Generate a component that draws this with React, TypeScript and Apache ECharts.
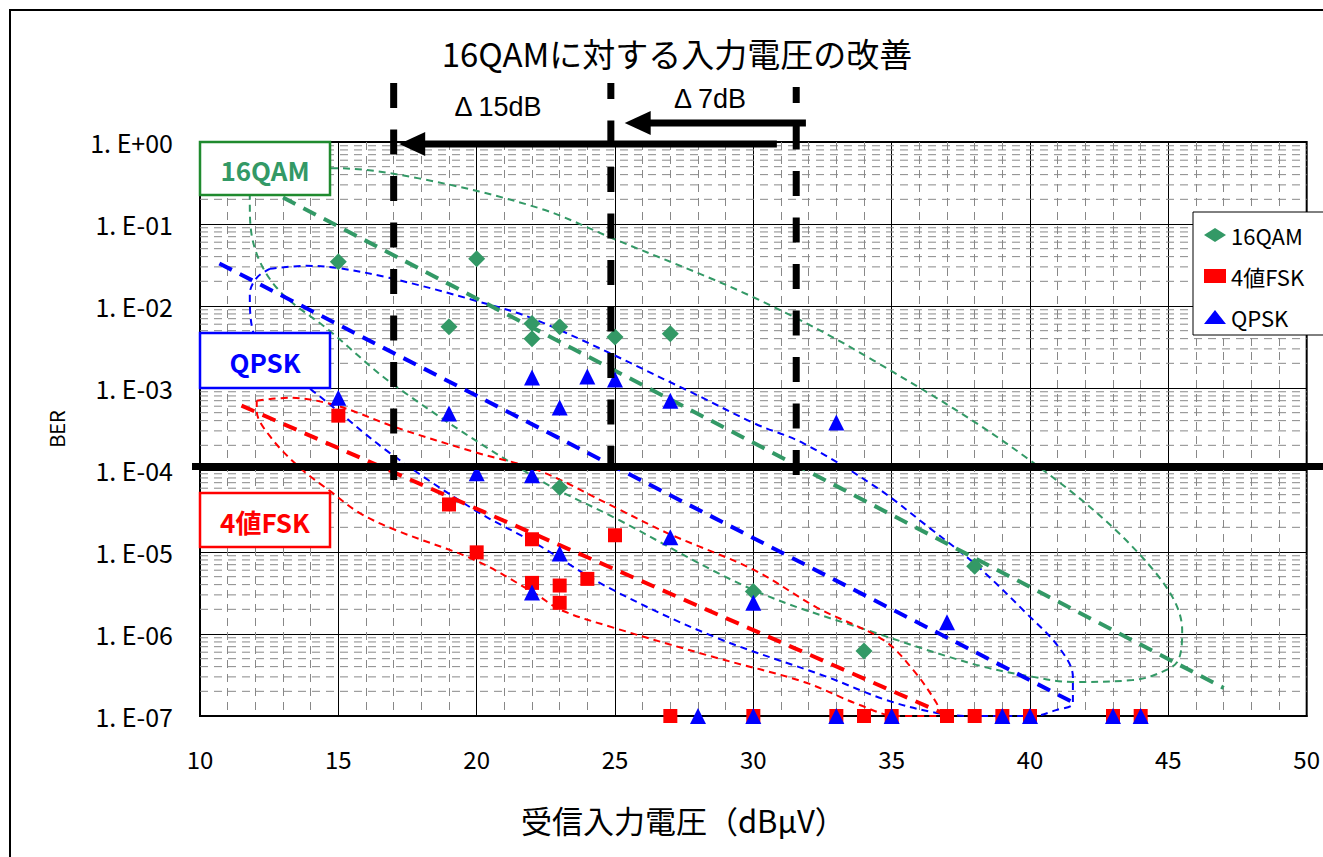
import React, { useEffect, useRef } from 'react';
import * as echarts from 'echarts';

// ---------- data ----------
const seriesNames = ['16QAM', '4値FSK', 'QPSK'];

const qam16Points: [number, number][] = [
  [15, 3.46e-2], [20, 3.76e-2], [19, 5.6e-3], [22, 6.1e-3], [22, 4.0e-3], [23, 5.6e-3],
  [25, 4.2e-3], [27, 4.6e-3], [23, 6.1e-5], [30, 3.3e-6], [34, 6.2e-7], [38, 6.7e-6],
];
const fskPoints: [number, number][] = [
  [15, 4.6e-4], [19, 3.8e-5], [20, 9.9e-6], [22, 1.43e-5], [22, 4.2e-6], [23, 3.9e-6],
  [23, 2.4e-6], [24, 4.7e-6], [25, 1.6e-5],
];
const qpskPoints: [number, number][] = [
  [15, 7.6e-4], [19, 4.9e-4], [20, 9.1e-5], [22, 1.34e-3], [22, 8.6e-5], [23, 5.8e-4],
  [24, 1.38e-3], [25, 1.27e-3], [27, 7.0e-4], [33, 3.8e-4], [22, 3.2e-6], [23, 9.6e-6],
  [27, 1.51e-5], [30, 2.4e-6], [37, 1.39e-6],
];
const floorBer = 1e-7;
const fskFloorX = [27, 30, 33, 34, 35, 37, 38, 39, 40, 43, 44];
const qpskFloorX = [28, 30, 33, 35, 39, 40, 43, 44];

const qam16Trend: [number, number][] = [[13, 0.21], [47, 2.2e-7]];
const qpskTrend: [number, number][] = [[10.7, 0.033], [41.6, 1.44e-7]];
const fskTrend: [number, number][] = [[11.5, 6.1e-4], [36.8, 1.1e-7]];

const qam16Envelope: [number, number][] = [
  [11.8, 0.29], [13.24, 0.44], [14.78, 0.48], [17.91, 0.36], [22.23, 0.157], [24.86, 0.068],
  [30.04, 0.0126], [34.35, 2.16e-3], [39.86, 1.42e-4], [44.06, 8.6e-6], [45.5, 1.11e-6],
  [45.36, 4.8e-7], [44.64, 3.3e-7], [43.71, 2.74e-7], [41.55, 2.6e-7], [40.11, 3.0e-7],
  [38.06, 4.2e-7], [34.46, 1.02e-6], [30.04, 3.4e-6], [25.0, 2.6e-5], [22.12, 8.1e-5],
  [17.09, 1.04e-3], [14.68, 5.0e-3], [12.77, 0.0167], [11.91, 0.062], [11.8, 0.19], [11.8, 0.29],
];
const qpskEnvelope: [number, number][] = [
  [12.52, 0.0284], [13.85, 0.0309], [14.93, 0.0292], [16.83, 0.0221], [19.96, 0.0116],
  [22.23, 6.6e-3], [27.63, 9.3e-4], [30.04, 3.7e-4], [31.83, 2.1e-4], [34.46, 6.1e-5],
  [36.26, 2.1e-5], [38.06, 6.9e-6], [39.86, 1.8e-6], [41.04, 6.9e-7], [41.55, 3.0e-7],
  [41.55, 1.44e-7], [40.94, 1.18e-7], [40.11, 1.0e-7], [39.03, 1.0e-7], [37.81, 1.0e-7],
  [36.62, 1.09e-7], [34.82, 1.56e-7], [32.66, 3.0e-7], [28.6, 9.2e-7], [24.75, 3.7e-6],
  [22.12, 1.28e-5], [19.96, 3.2e-5], [16.83, 1.64e-4], [14.06, 9.3e-4], [12.7, 1.9e-3],
  [11.91, 5.0e-3], [11.8, 0.0141], [12.05, 0.0221], [12.52, 0.0284],
];
const fskEnvelope: [number, number][] = [
  [12.05, 7.0e-4], [13.24, 7.6e-4], [14.93, 6.1e-4], [17.09, 3.3e-4], [19.96, 1.64e-4],
  [22.23, 9.9e-5], [25.0, 3.5e-5], [26.91, 1.69e-5], [30.04, 6.0e-6], [32.3, 2.1e-6],
  [34.71, 8.4e-7], [35.79, 3.6e-7], [36.62, 1.44e-7], [36.8, 1.0e-7], [35.18, 1.0e-7],
  [33.85, 1.36e-7], [31.83, 2.6e-7], [28.6, 5.2e-7], [25.0, 1.18e-6], [23.06, 1.95e-6],
  [22.12, 3.1e-6], [19.96, 7.9e-6], [17.09, 1.84e-5], [15.76, 3.0e-5], [14.68, 5.6e-5],
  [13.6, 1.07e-4], [12.52, 2.6e-4], [12.05, 5.3e-4], [12.05, 7.0e-4],
];

// annotation values
const markerX = [17, 24.85, 31.55];
const thresholdBer = 1.1e-4;
const arrow15 = { from: 30.85, to: 17.2, label: 'Δ 15dB' };
const arrow7 = { from: 31.9, to: 25.35, label: 'Δ 7dB' };
const minorDecades = [-7, -6, -5, -4, -3, -2, -1];
const minorMultipliers = [2, 3, 4, 5, 6, 7, 8, 9];

// ---------- styles ----------
const JP = '"Noto Sans CJK JP", "Noto Sans", sans-serif';
const GREEN = '#339966';
const GREEN_BORDER = '#1f8a2e';
const RED = '#ff0000';
const BLUE = '#0000ff';
const GRID = { left: 200, top: 142, width: 1112, height: 574 };

function berLabel(v: number) {
  const e = Math.round(Math.log10(v));
  const sign = e >= 0 ? '+' : '-';
  return `1. E${sign}${String(Math.abs(e)).padStart(2, '0')}`;
}

function envelopeSeries(name: string, data: [number, number][], color: string) {
  return {
    name, type: 'line', data, smooth: 0.35, showSymbol: false, symbol: 'none', z: 3, silent: true,
    lineStyle: { color, width: 2, type: [7, 5] },
  };
}
function trendSeries(name: string, data: [number, number][], color: string) {
  return {
    name, type: 'line', data, showSymbol: false, symbol: 'none', z: 4, silent: true,
    lineStyle: { color, width: 4, type: [14, 9] },
  };
}

export default function App() {
  const ref = useRef<HTMLDivElement>(null);
  useEffect(() => {
    document.body.style.margin = '0';
    const chart = echarts.init(ref.current!, null, { renderer: 'svg' });
    const minorLines: number[][] = [];
    minorDecades.forEach((d) => minorMultipliers.forEach((m) => minorLines.push([30, m * Math.pow(10, d)])));

    const option: any = {
      animation: false,
      backgroundColor: '#fff',
      title: {
        text: '16QAMに対する入力電圧の改善',
        left: 672, top: 31, textAlign: 'center',
        textStyle: { fontFamily: JP, fontSize: 33, fontWeight: 'normal', color: '#000' },
      },
      legend: {
        data: seriesNames,
        orient: 'vertical', left: 1193, top: 212,
        padding: [11, 60, 6, 11], itemGap: 17, itemWidth: 22, itemHeight: 14,
        backgroundColor: '#fff', borderColor: '#000', borderWidth: 1,
        textStyle: { fontFamily: JP, fontSize: 22, color: '#000', lineHeight: 24 },
        z: 20,
      },
      grid: { ...GRID, show: true, borderColor: '#000', borderWidth: 2, backgroundColor: '#fff' },
      xAxis: {
        type: 'value', min: 10, max: 50, interval: 5,
        name: '受信入力電圧（dBμV）', nameLocation: 'middle', nameGap: 88,
        nameTextStyle: { fontFamily: JP, fontSize: 31, color: '#000', padding: [0, 140, 0, 0] },
        axisLine: { show: true, lineStyle: { color: '#000', width: 2 } },
        axisTick: { show: false },
        axisLabel: { margin: 30, fontFamily: JP, fontSize: 24, color: '#000' },
        splitLine: { show: true, lineStyle: { color: '#000', width: 1 } },
        minorTick: { show: false, splitNumber: 5 },
        minorSplitLine: { show: true, lineStyle: { color: '#888', width: 1, type: [8, 6] } },
      },
      yAxis: {
        type: 'log', logBase: 10, min: 1e-7, max: 1, splitNumber: 7,
        name: 'BER', nameLocation: 'middle', nameGap: 134,
        nameTextStyle: { fontFamily: JP, fontSize: 20, color: '#000' },
        axisLine: { show: true, lineStyle: { color: '#000', width: 2 } },
        axisTick: { show: false },
        axisLabel: { margin: 27, fontFamily: JP, fontSize: 25, color: '#000', formatter: berLabel },
        splitLine: { show: true, lineStyle: { color: '#000', width: 1 } },
      },
      series: [
        {
          name: 'minor-grid', type: 'custom', z: 1, silent: true, data: minorLines,
          renderItem: (_p: any, api: any) => {
            const v = api.value(1);
            const a = api.coord([10, v]);
            const b = api.coord([50, v]);
            return {
              type: 'line',
              shape: { x1: a[0], y1: a[1], x2: b[0], y2: b[1] },
              style: { stroke: '#888', lineWidth: 1, lineDash: [8, 6] },
            };
          },
        },
        envelopeSeries('16QAM-range', qam16Envelope, GREEN),
        envelopeSeries('QPSK-range', qpskEnvelope, BLUE),
        envelopeSeries('4値FSK-range', fskEnvelope, RED),
        trendSeries('16QAM-trend', qam16Trend, GREEN),
        trendSeries('QPSK-trend', qpskTrend, BLUE),
        trendSeries('4値FSK-trend', fskTrend, RED),
        {
          name: '16QAM', type: 'scatter', symbol: 'diamond', symbolSize: 17, z: 6,
          itemStyle: { color: GREEN, opacity: 1 }, data: qam16Points,
        },
        {
          name: '4値FSK', type: 'scatter', symbol: 'rect', symbolSize: 14, z: 7,
          itemStyle: { color: RED, opacity: 1 },
          data: [...fskPoints, ...fskFloorX.map((x) => [x, floorBer])],
        },
        {
          name: 'QPSK', type: 'scatter', symbol: 'triangle', symbolSize: 16, z: 8,
          itemStyle: { color: BLUE, opacity: 1 },
          data: [...qpskPoints, ...qpskFloorX.map((x) => [x, floorBer])],
        },
      ],
    };
    chart.setOption(option);

    const px = (x: number, y: number) => chart.convertToPixel({ gridIndex: 0 }, [x, y]) as number[];
    const vTops = [83, 83, 87];
    const vBottoms = [480, 472, 475];
    const vOffsets = [0, 9, 9];
    const elements: any[] = [];
    elements.push({
      type: 'rect', silent: true, z: 0,
      shape: { x: 10, y: 10, width: 1400, height: 900 },
      style: { fill: 'none', stroke: '#000', lineWidth: 2 },
    });
    markerX.forEach((mx, i) => {
      const x = px(mx, 1)[0];
      elements.push({
        type: 'line', silent: true, z: 50,
        shape: { x1: x, y1: vTops[i], x2: x, y2: vBottoms[i] },
        style: { stroke: '#000', lineWidth: 7, lineDash: [25, 21.5], lineDashOffset: vOffsets[i] },
      });
    });
    const ty = px(20, thresholdBer)[1];
    elements.push({
      type: 'line', silent: true, z: 50,
      shape: { x1: GRID.left - 8, y1: ty, x2: 1323, y2: ty },
      style: { stroke: '#000', lineWidth: 7 },
    });
    const arrows = [
      { a: arrow15, y: 144, textX: 498, textY: 107 },
      { a: arrow7, y: 123, textX: 710, textY: 99 },
    ];
    arrows.forEach(({ a, y, textX, textY }) => {
      const tip = px(a.to, 1)[0];
      const tail = px(a.from, 1)[0];
      elements.push({
        type: 'line', silent: true, z: 50,
        shape: { x1: tip + 20, y1: y, x2: tail, y2: y },
        style: { stroke: '#000', lineWidth: 7 },
      });
      elements.push({
        type: 'polygon', silent: true, z: 50,
        shape: { points: [[tip, y], [tip + 26, y - 12], [tip + 26, y + 12]] },
        style: { fill: '#000' },
      });
      elements.push({
        type: 'text', silent: true, z: 50, x: textX, y: textY,
        style: {
          text: a.label, fill: '#000', fontFamily: '"Liberation Sans", Arial, sans-serif', fontSize: 27,
          align: 'center', verticalAlign: 'middle',
        },
      });
    });
    const boxes = [
      { label: '16QAM', y: 142, h: 53, stroke: GREEN_BORDER, fill: GREEN },
      { label: 'QPSK', y: 333, h: 55, stroke: BLUE, fill: BLUE },
      { label: '4値FSK', y: 493, h: 54, stroke: RED, fill: RED },
    ];
    boxes.forEach((b) => {
      elements.push({
        type: 'rect', silent: true, z: 60,
        shape: { x: 200, y: b.y, width: 130, height: b.h },
        style: { fill: '#fff', stroke: b.stroke, lineWidth: 2.5 },
      });
      elements.push({
        type: 'text', silent: true, z: 61, x: 265, y: b.y + b.h / 2 + 1,
        style: {
          text: b.label, fill: b.fill, fontFamily: JP, fontSize: 26, fontWeight: 'bold',
          align: 'center', verticalAlign: 'middle',
        },
      });
    });
    chart.setOption({ graphic: { elements } });

    return () => chart.dispose();
  }, []);
  return <div ref={ref} style={{ width: 1323, height: 857 }} />;
}
